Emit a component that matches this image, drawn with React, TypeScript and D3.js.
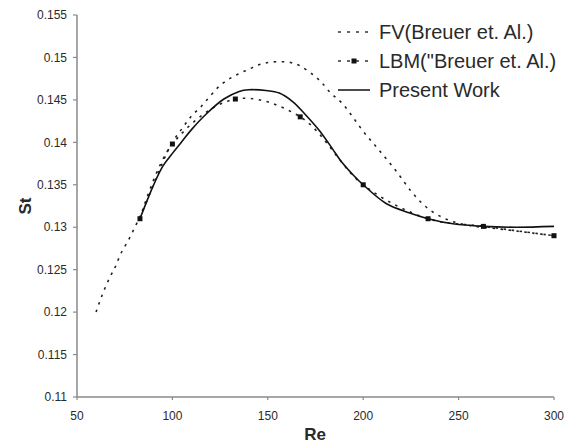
import React from "react";
import * as d3 from "d3";

const xTicks = [50, 100, 150, 200, 250, 300];
const yTicks = [0.11, 0.115, 0.12, 0.125, 0.13, 0.135, 0.14, 0.145, 0.15, 0.155];

const fvRe = [60, 63, 67, 70, 73, 77, 81, 85, 90, 95, 100, 105, 110, 115, 120, 125, 130, 135, 140, 145, 150, 156, 162, 167, 174, 178, 183, 189, 200, 209, 218, 226, 234, 244, 256, 275, 289, 300];
const fvSt = [0.12, 0.1219, 0.124, 0.1253, 0.1269, 0.1285, 0.1303, 0.1322, 0.135, 0.1377, 0.14, 0.1416, 0.1431, 0.1442, 0.1455, 0.1467, 0.1475, 0.1481, 0.1486, 0.1491, 0.1494, 0.1495, 0.1494, 0.149, 0.1479, 0.1471, 0.1458, 0.1446, 0.1413, 0.1389, 0.1364, 0.134, 0.1322, 0.1309, 0.1302, 0.1297, 0.1293, 0.129];

const lbmRe = [83, 100, 133, 167, 200, 234, 263, 300];
const lbmSt = [0.131, 0.1398, 0.1451, 0.143, 0.135, 0.131, 0.1301, 0.129];

const pwRe = [83, 90, 95, 100, 105, 110, 118, 127, 135, 140, 149, 156, 163, 170, 177, 184, 188, 195, 200, 212, 224, 234, 247, 263, 280, 300];
const pwSt = [0.131, 0.1349, 0.1372, 0.1387, 0.1401, 0.1415, 0.1434, 0.1451, 0.146, 0.1462, 0.1461, 0.1458, 0.1448, 0.1432, 0.1414, 0.1392, 0.1379, 0.1361, 0.135, 0.1328, 0.1317, 0.131, 0.1304, 0.1301, 0.13, 0.1301];

const legendLabels = ["FV(Breuer et. Al.)", "LBM(\"Breuer et. Al.)", "Present Work"];

export default function App() {
  const W = 574, H = 443;
  const x = d3.scaleLinear().domain([50, 300]).range([77, 554]);
  const y = d3.scaleLinear().domain([0.11, 0.155]).range([397, 15]);
  const line = (re: number[], st: number[]) =>
    d3.line<number>().x((_, i) => x(re[i])).y((_, i) => y(st[i])).curve(d3.curveCatmullRom.alpha(0.5))(re) || "";

  const axisColor = "#8a8a8a";
  const textColor = "#2a2a2a";
  const font = "'Liberation Sans', Arial, sans-serif";
  const legendY = [32, 61, 90];

  return (
    <svg width={W} height={H} style={{ position: "absolute", left: 0, top: 0, background: "#fff" }} fontFamily={font}>
      <rect x={0} y={0} width={W} height={H} fill="#fff" />
      {/* axes */}
      <line x1={x(50)} x2={x(50)} y1={y(0.155)} y2={y(0.11)} stroke={axisColor} strokeWidth={1.5} />
      <line x1={x(50)} x2={x(300)} y1={y(0.11)} y2={y(0.11)} stroke={axisColor} strokeWidth={1.5} />
      {yTicks.map((t) => (
        <g key={"y" + t}>
          <line x1={x(50) - 4} x2={x(50)} y1={y(t)} y2={y(t)} stroke={axisColor} strokeWidth={1.2} />
          <text x={67} y={y(t)} dy="0.35em" textAnchor="end" fontSize={12} fill={textColor}>
            {String(t)}
          </text>
        </g>
      ))}
      {xTicks.map((t) => (
        <g key={"x" + t}>
          <line x1={x(t)} x2={x(t)} y1={y(0.11)} y2={y(0.11) + 3} stroke={axisColor} strokeWidth={1.2} />
          <text x={x(t)} y={416} dy="0.35em" textAnchor="middle" fontSize={12} fill={textColor}>
            {t}
          </text>
        </g>
      ))}
      <text x={315} y={440} textAnchor="middle" fontSize={17} fontWeight="bold" fill={textColor}>Re</text>
      <text transform="translate(25,206) rotate(-90)" dy="0.35em" textAnchor="middle" fontSize={17} fontWeight="bold" fill={textColor}>St</text>

      {/* series */}
      <path d={line(fvRe, fvSt)} fill="none" stroke="#222" strokeWidth={1.6} strokeDasharray="2.5 5.5" />
      <path d={line(lbmRe, lbmSt)} fill="none" stroke="#222" strokeWidth={1.6} strokeDasharray="2.5 5.5" />
      {lbmRe.map((r, i) => (
        <rect key={"m" + i} x={x(r) - 2.5} y={y(lbmSt[i]) - 2.5} width={5} height={5} fill="#111" />
      ))}
      <path d={line(pwRe, pwSt)} fill="none" stroke="#111" strokeWidth={1.6} />

      {/* legend */}
      <line x1={338} x2={370} y1={legendY[0]} y2={legendY[0]} stroke="#333" strokeWidth={1.5} strokeDasharray="3 6" />
      <line x1={338} x2={370} y1={legendY[1]} y2={legendY[1]} stroke="#333" strokeWidth={1.5} strokeDasharray="3 6" />
      <rect x={354 - 2.5} y={legendY[1] - 2.5} width={5} height={5} fill="#111" />
      <line x1={338} x2={370} y1={legendY[2]} y2={legendY[2]} stroke="#111" strokeWidth={1.5} />
      {legendLabels.map((l, i) => (
        <text key={l} x={379} y={legendY[i]} dy="0.35em" fontSize={20} fill={textColor}>
          {l}
        </text>
      ))}
    </svg>
  );
}
